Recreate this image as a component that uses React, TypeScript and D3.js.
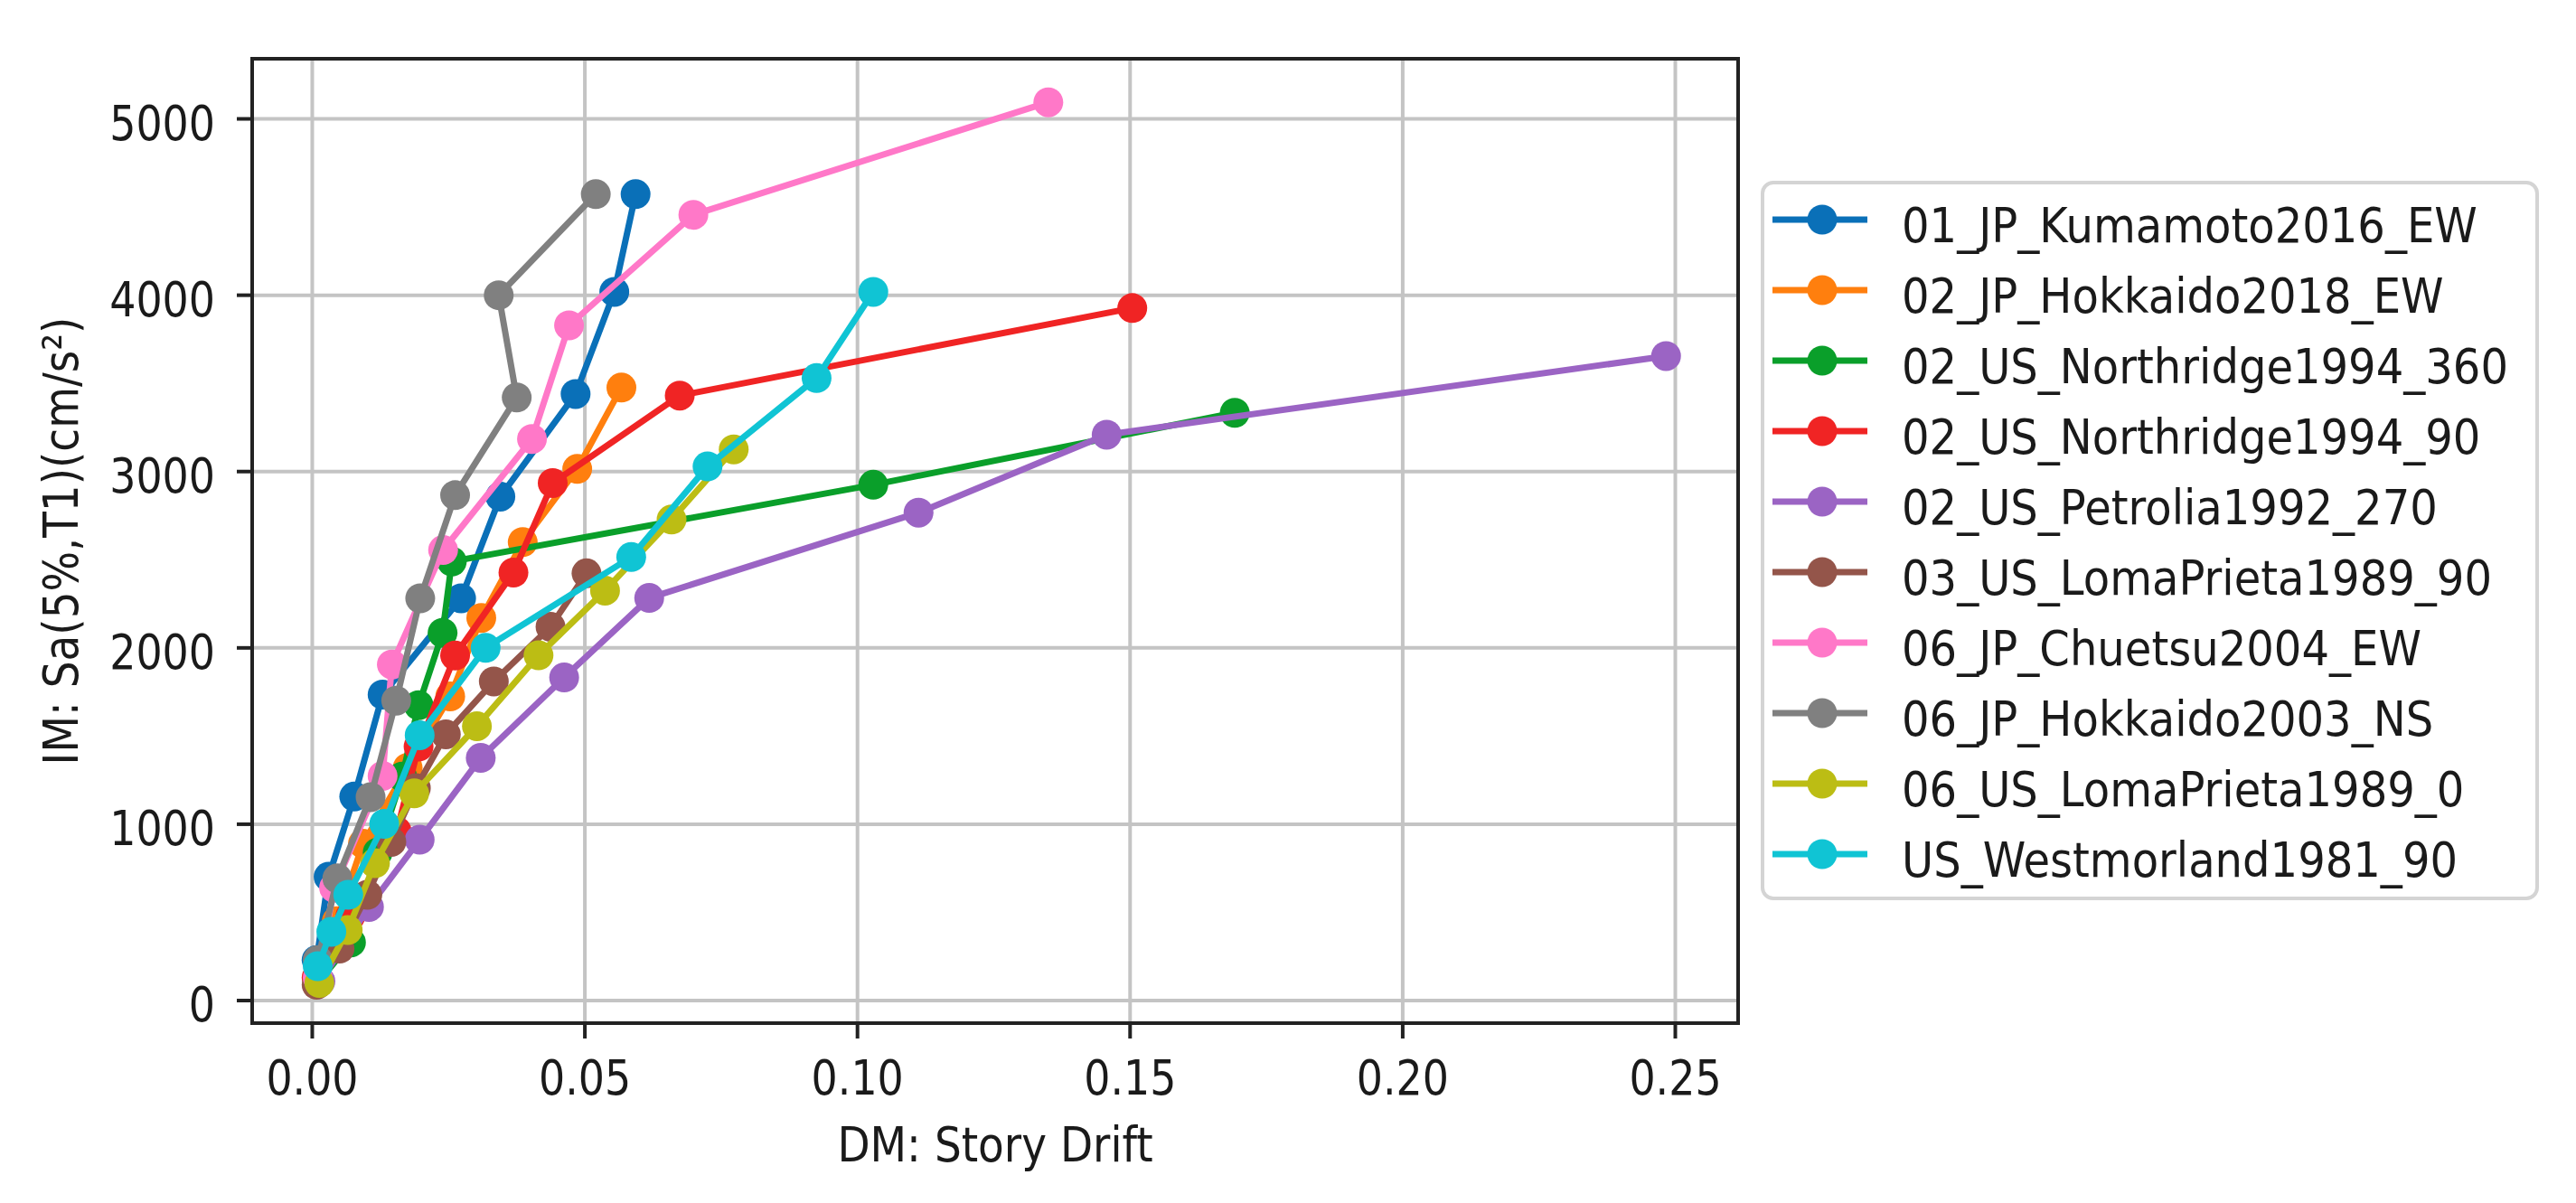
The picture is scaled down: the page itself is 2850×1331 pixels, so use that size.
import React from "react";
import * as d3 from "d3";

// ---- Data ----
const seriesNames = [
  "01_JP_Kumamoto2016_EW",
  "02_JP_Hokkaido2018_EW",
  "02_US_Northridge1994_360",
  "02_US_Northridge1994_90",
  "02_US_Petrolia1992_270",
  "03_US_LomaPrieta1989_90",
  "06_JP_Chuetsu2004_EW",
  "06_JP_Hokkaido2003_NS",
  "06_US_LomaPrieta1989_0",
  "US_Westmorland1981_90",
];
const seriesColors = [
  "#0a70b8", "#ff7f0e", "#0a9f2a", "#f02424", "#9b64c4",
  "#94554a", "#ff78c8", "#808080", "#bcbd14", "#10c4d4",
];

const kumamotoDM = [0.0008, 0.003, 0.0077, 0.0129, 0.0273, 0.0345, 0.0483, 0.0554, 0.0593];
const kumamotoIM = [230, 702, 1157, 1735, 2281, 2858, 3440, 4019, 4573];

const hokkaido2018DM = [0.001, 0.0045, 0.0093, 0.0175, 0.0253, 0.031, 0.0386, 0.0486, 0.0567];
const hokkaido2018IM = [110, 450, 890, 1320, 1725, 2170, 2600, 3015, 3476];

const northridge360DM = [0.001, 0.0071, 0.012, 0.0165, 0.0195, 0.0239, 0.0256, 0.1029, 0.1692];
const northridge360IM = [100, 330, 840, 1270, 1675, 2085, 2490, 2925, 3333];

const northridge90DM = [0.0008, 0.007, 0.0155, 0.0195, 0.0262, 0.0369, 0.0441, 0.0674, 0.1504];
const northridge90IM = [130, 480, 960, 1440, 1957, 2427, 2935, 3431, 3927];

const petroliaDM = [0.0015, 0.0104, 0.0197, 0.0309, 0.0462, 0.0618, 0.1112, 0.1457, 0.2483];
const petroliaIM = [110, 531, 912, 1376, 1832, 2283, 2767, 3209, 3655];

const lomaPrieta90DM = [0.0008, 0.005, 0.0101, 0.0145, 0.019, 0.0245, 0.0333, 0.0437, 0.0503];
const lomaPrieta90IM = [90, 295, 600, 900, 1205, 1510, 1810, 2120, 2423];

const chuetsuDM = [0.001, 0.004, 0.0129, 0.0146, 0.024, 0.0403, 0.0471, 0.0699, 0.135];
const chuetsuIM = [130, 640, 1274, 1906, 2555, 3185, 3829, 4456, 5094];

const hokkaido2003DM = [0.001, 0.0046, 0.0107, 0.0154, 0.0198, 0.0262, 0.0375, 0.0342, 0.052];
const hokkaido2003IM = [230, 693, 1154, 1701, 2281, 2866, 3420, 4000, 4573];

const lomaPrieta0DM = [0.0013, 0.0065, 0.0115, 0.0187, 0.0302, 0.0415, 0.0537, 0.0659, 0.0773];
const lomaPrieta0IM = [100, 400, 779, 1175, 1556, 1958, 2325, 2728, 3126];

const westmorlandDM = [0.001, 0.0035, 0.0066, 0.0132, 0.0197, 0.0318, 0.0585, 0.0725, 0.0925, 0.1029];
const westmorlandIM = [195, 390, 600, 1002, 1505, 2000, 2515, 3029, 3530, 4019];

const xTicks = [0.0, 0.05, 0.1, 0.15, 0.2, 0.25];
const yTicks = [0, 1000, 2000, 3000, 4000, 5000];
const xLabel = "DM: Story Drift";
const yLabel = "IM: Sa(5%,T1)(cm/s²)";

const seriesDM = [kumamotoDM, hokkaido2018DM, northridge360DM, northridge90DM, petroliaDM,
  lomaPrieta90DM, chuetsuDM, hokkaido2003DM, lomaPrieta0DM, westmorlandDM];
const seriesIM = [kumamotoIM, hokkaido2018IM, northridge360IM, northridge90IM, petroliaIM,
  lomaPrieta90IM, chuetsuIM, hokkaido2003IM, lomaPrieta0IM, westmorlandIM];

// ---- Layout ----
const W = 2850, H = 1331;
const plot = { left: 279, right: 1923, top: 65, bottom: 1132 };
const FONT = "'DejaVu Sans', sans-serif";
const FS = 54;
const R = 16.5;

export default function App() {
  const x = d3.scaleLinear().domain([-0.01102, 0.26152]).range([plot.left, plot.right]);
  const y = d3.scaleLinear().domain([-128, 5341]).range([plot.bottom, plot.top]);

  const series = seriesNames.map((name, i) => ({
    name,
    color: seriesColors[i],
    pts: seriesDM[i].map((d, j) => [d, seriesIM[i][j]] as [number, number]),
  }));

  const line = d3.line<[number, number]>().x((d) => x(d[0])).y((d) => y(d[1]));

  const legend = { x: 1950, y: 202, w: 857, h: 792, row0: 243, step: 78 };

  return (
    <svg width={W} height={H} style={{ position: "absolute", left: 0, top: 0, background: "#fff" }}
      fontFamily={FONT}>
      <rect x={0} y={0} width={W} height={H} fill="#fff" />
      <defs>
        <clipPath id="plotclip">
          <rect x={plot.left} y={plot.top} width={plot.right - plot.left} height={plot.bottom - plot.top} />
        </clipPath>
      </defs>
      {/* grid */}
      {xTicks.map((t) => (
        <line key={"gx" + t} x1={x(t)} x2={x(t)} y1={plot.top} y2={plot.bottom} stroke="#c4c4c4" strokeWidth={4} />
      ))}
      {yTicks.map((t) => (
        <line key={"gy" + t} x1={plot.left} x2={plot.right} y1={y(t)} y2={y(t)} stroke="#c4c4c4" strokeWidth={4} />
      ))}
      {/* series */}
      <g clipPath="url(#plotclip)">
        {series.map((s) => (
          <g key={s.name}>
            <path d={line(s.pts) || ""} fill="none" stroke={s.color} strokeWidth={7} strokeLinejoin="round" />
            {s.pts.map((p, j) => (
              <circle key={j} cx={x(p[0])} cy={y(p[1])} r={R} fill={s.color} />
            ))}
          </g>
        ))}
      </g>
      {/* spines */}
      <rect x={plot.left} y={plot.top} width={plot.right - plot.left} height={plot.bottom - plot.top}
        fill="none" stroke="#222" strokeWidth={4} />
      {/* x ticks */}
      {xTicks.map((t) => (
        <g key={"xt" + t}>
          <line x1={x(t)} x2={x(t)} y1={plot.bottom} y2={plot.bottom + 17} stroke="#222" strokeWidth={4} />
          <text transform={`translate(${x(t)},${1211}) scale(0.85,1)`} textAnchor="middle" fontSize={FS} fill="#1a1a1a">
            {t.toFixed(2)}
          </text>
        </g>
      ))}
      {/* y ticks */}
      {yTicks.map((t) => (
        <g key={"yt" + t}>
          <line x1={plot.left - 17} x2={plot.left} y1={y(t)} y2={y(t)} stroke="#222" strokeWidth={4} />
          <text transform={`translate(${238},${y(t) + 23}) scale(0.85,1)`} textAnchor="end" fontSize={FS} fill="#1a1a1a">
            {String(t)}
          </text>
        </g>
      ))}
      {/* axis labels */}
      <text transform={`translate(${(plot.left + plot.right) / 2},${1285}) scale(0.87,1)`} textAnchor="middle"
        fontSize={FS} fill="#1a1a1a">{xLabel}</text>
      <text transform={`translate(${86},${(plot.top + plot.bottom) / 2}) rotate(-90) scale(0.87,1)`}
        textAnchor="middle" fontSize={FS} fill="#1a1a1a">{yLabel}</text>
      {/* legend */}
      <rect x={legend.x} y={legend.y} width={legend.w} height={legend.h} rx={12} ry={12}
        fill="#fff" fillOpacity={0.8} stroke="#d4d4d4" strokeWidth={4} />
      {series.map((s, i) => {
        const cy = legend.row0 + i * legend.step;
        return (
          <g key={"lg" + s.name}>
            <line x1={1961} x2={2066} y1={cy} y2={cy} stroke={s.color} strokeWidth={7} />
            <circle cx={2016} cy={cy} r={R} fill={s.color} />
            <text transform={`translate(${2104},${cy + 25}) scale(0.89,1)`} fontSize={FS} fill="#1a1a1a">
              {s.name}
            </text>
          </g>
        );
      })}
    </svg>
  );
}
